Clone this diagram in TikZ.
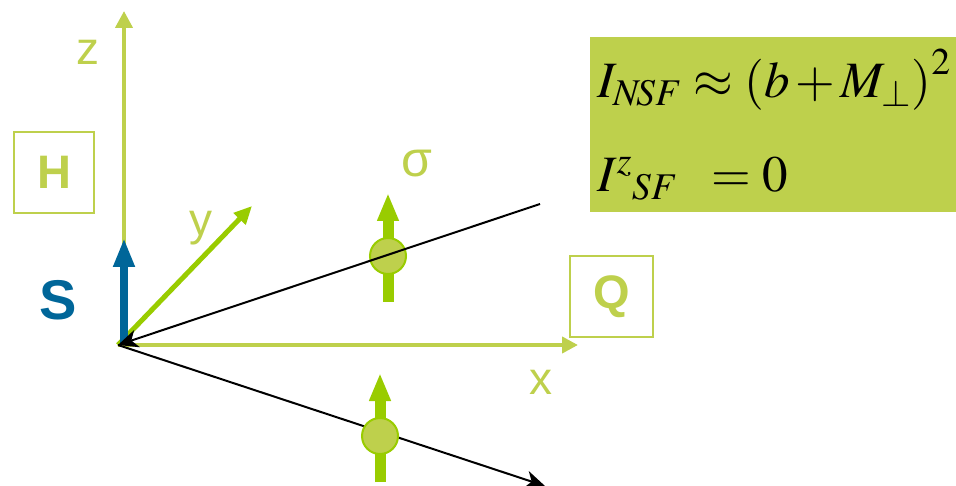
\documentclass[tikz,border=0pt]{standalone}
\usepackage{mathptmx}
\usepackage{fontspec}
\usetikzlibrary{arrows.meta}
\newfontfamily\arialf{Liberation Sans}
\definecolor{lgreen}{HTML}{BED04C}
\definecolor{bgreen}{HTML}{99CC00}
\definecolor{sblue}{HTML}{006699}
\tikzset{
  axislbl/.style={text=lgreen,inner sep=0,font=\arialf\fontsize{46}{50}\selectfont},
  boxlbl/.style={draw=lgreen,line width=2pt,text=lgreen,inner sep=0,minimum width=80pt,minimum height=81pt,font=\arialf\bfseries\fontsize{47}{50}\selectfont},
  spinball/.style={circle,fill=lgreen,draw=bgreen,line width=2pt,minimum size=36pt,inner sep=0},
  spinarrow/.style={draw=bgreen,line width=11pt,-{Triangle[width=20pt,length=28pt]}},
  beam/.style={draw=black,line width=2pt},
  formula/.style={anchor=base west,inner sep=0,font=\fontsize{51}{56}\selectfont},
}
\begin{document}
\begin{tikzpicture}[x=1pt,y=-1pt]
\useasboundingbox (0,0) rectangle (956,486);
% formula box
\node[fill=lgreen,minimum width=366pt,minimum height=175pt,inner sep=0,anchor=north west] (fbox) at (590,37) {};
\node[formula] (f1) at (597,98) {$\medmuskip=2mu\thickmuskip=4mu I_{N\!SF}\approx\left(b+M_{\perp}\right)^{2}$};
\node[formula] (f2) at (597,192) {$I^{z}{}_{SF}\;\;=0$};
% coordinates
\coordinate (O) at (118,345);
\coordinate (zb) at (124,345);
\coordinate (zt) at (124,11);
\coordinate (xt) at (578,345);
\coordinate (yt) at (252,206);
\coordinate (st) at (124,238);
\coordinate (kin) at (540,204);
\coordinate (kout) at (545,486);
% axes
\draw[lgreen,line width=4pt,-{Triangle[width=17pt,length=17pt]}] (zb) -- (zt);
\draw[lgreen,line width=4.5pt,-{Triangle[width=16pt,length=16pt]}] (O) -- (xt);
\draw[bgreen,line width=5pt,-{Triangle[width=16pt,length=18pt]}] (O) -- (yt);
\draw[sblue,line width=8pt,-{Triangle[width=20pt,length=29pt]}] (zb) -- (st);
% labels
\node[axislbl] (zl) at (88,52) {z};
\node[axislbl] (yl) at (201,228) {y};
\node[axislbl] (xl) at (541,382) {x};
\node[axislbl,font=\arialf\fontsize{50}{54}\selectfont] (sig) at (417,164) {σ};
\node[boxlbl] (H) at (54,172.5) {H};
\node[boxlbl,minimum width=83pt] (Q) at (611.5,296.5) {Q};
\node[text=sblue,inner sep=0,font=\arialf\bfseries\fontsize{56}{60}\selectfont] (S) at (58,300) {S};
% top spin
\coordinate (s1b) at (388,302);
\coordinate (s1t) at (388,193);
\draw[spinarrow] (s1b) -- (s1t);
\node[spinball] (b1) at (388,256) {};
\draw[beam,-{Stealth[width=18pt,length=20pt,inset=6pt]}] (kin) -- (O);
% bottom spin
\coordinate (s2b) at (380,482);
\coordinate (s2t) at (380,373);
\draw[beam,-{Stealth[width=18pt,length=20pt,inset=6pt]}] (O) -- (kout);
\draw[spinarrow] (s2b) -- (s2t);
\node[spinball] (b2) at (380,436) {};
\end{tikzpicture}
\end{document}
